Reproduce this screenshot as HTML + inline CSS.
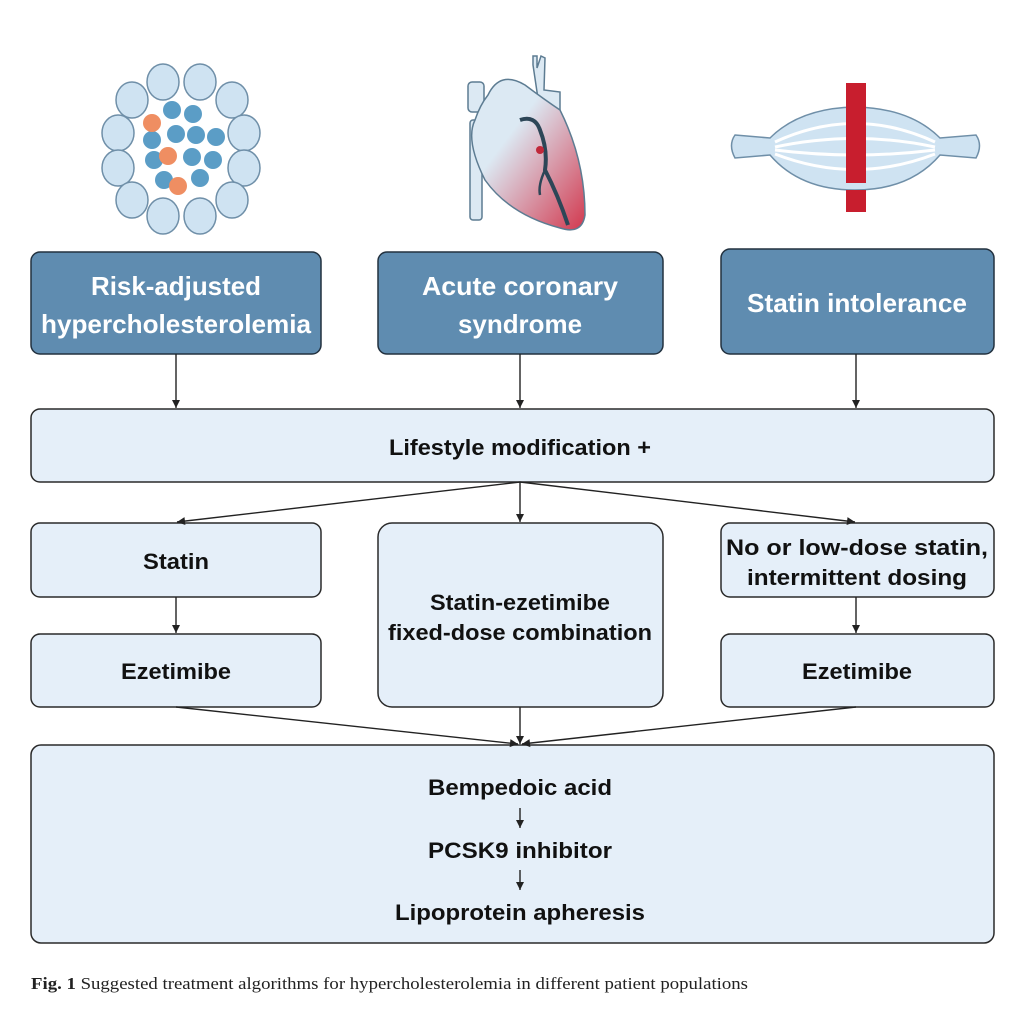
<!DOCTYPE html>
<html><head><meta charset="utf-8"><style>
html,body{margin:0;padding:0;background:#fff;}
svg{display:block;}
</style></head><body>
<svg width="1024" height="1024" viewBox="0 0 1024 1024" xmlns="http://www.w3.org/2000/svg">
<defs>
<marker id="ah" markerWidth="10" markerHeight="10" refX="9" refY="5" orient="auto" markerUnits="userSpaceOnUse">
<path d="M1,1 L9,5 L1,9 Z" fill="#222"/>
</marker>
<linearGradient id="heart" x1="0" y1="0" x2="1" y2="1">
<stop offset="0.35" stop-color="#dce9f3"/><stop offset="1" stop-color="#d2384e"/>
</linearGradient>
</defs>
<rect width="1024" height="1024" fill="#fff"/>

<!-- Icon 1: cell cluster -->
<g stroke="#6f8fa8" stroke-width="1.5" fill="#cfe3f2">
<ellipse cx="163" cy="82" rx="16" ry="18"/><ellipse cx="200" cy="82" rx="16" ry="18"/>
<ellipse cx="132" cy="100" rx="16" ry="18"/><ellipse cx="232" cy="100" rx="16" ry="18"/>
<ellipse cx="118" cy="133" rx="16" ry="18"/><ellipse cx="244" cy="133" rx="16" ry="18"/>
<ellipse cx="118" cy="168" rx="16" ry="18"/><ellipse cx="244" cy="168" rx="16" ry="18"/>
<ellipse cx="132" cy="200" rx="16" ry="18"/><ellipse cx="232" cy="200" rx="16" ry="18"/>
<ellipse cx="163" cy="216" rx="16" ry="18"/><ellipse cx="200" cy="216" rx="16" ry="18"/>
</g>
<g fill="#5b9dc6">
<circle cx="172" cy="110" r="9"/><circle cx="193" cy="114" r="9"/>
<circle cx="176" cy="134" r="9"/><circle cx="196" cy="135" r="9"/><circle cx="216" cy="137" r="9"/>
<circle cx="152" cy="140" r="9"/><circle cx="154" cy="160" r="9"/>
<circle cx="192" cy="157" r="9"/><circle cx="213" cy="160" r="9"/>
<circle cx="164" cy="180" r="9"/><circle cx="200" cy="178" r="9"/>
</g>
<g fill="#ef8e62">
<circle cx="152" cy="123" r="9"/><circle cx="168" cy="156" r="9"/><circle cx="178" cy="186" r="9"/>
</g>

<!-- Icon 2: heart -->
<g stroke="#5d7c92" stroke-width="1.5" fill="#dce9f3">
<path d="M533,65 L533,56 L537,56 L537,68 L541,56 L545,58 L544,90 L560,92 L560,112 L540,112 Z"/>
<rect x="468" y="82" width="16" height="30" rx="4"/>
<rect x="470" y="120" width="12" height="100" rx="3"/>
</g>
<path d="M488,95 Q500,70 525,85 Q545,100 560,110 Q585,160 585,215 Q582,235 560,228 Q510,215 485,180 Q465,140 475,120 Q480,105 488,95 Z" fill="url(#heart)" stroke="#5d7c92" stroke-width="1.5"/>
<path d="M520,120 Q535,115 540,130 Q548,150 545,170 Q558,195 568,225" fill="none" stroke="#2d4657" stroke-width="4"/>
<path d="M545,170 Q538,185 540,195" fill="none" stroke="#2d4657" stroke-width="2.5"/>
<circle cx="540" cy="150" r="4" fill="#c0283a"/>

<!-- Icon 3: muscle -->
<path d="M735,135 L770,138 Q800,108 855,107 Q910,108 940,138 L976,135 Q983,145 976,158 L940,155 Q910,190 855,190 Q800,190 770,155 L735,158 Q728,145 735,135 Z" fill="#cfe3f2" stroke="#6f8fa8" stroke-width="1.5"/>
<g fill="none" stroke="#fff" stroke-width="3">
<path d="M775,142 Q855,105 935,142"/><path d="M775,147 Q855,130 935,147"/>
<path d="M775,150 Q855,160 935,150"/><path d="M775,154 Q855,185 935,154"/>
</g>
<rect x="846" y="83" width="20" height="100" fill="#c81e2e"/>
<rect x="846" y="190" width="20" height="22" fill="#c81e2e"/>

<!-- Top dark boxes -->
<g fill="#5f8cb0" stroke="#22313f" stroke-width="1.5">
<rect x="31" y="252" width="290" height="102" rx="9"/>
<rect x="378" y="252" width="285" height="102" rx="9"/>
<rect x="721" y="249" width="273" height="105" rx="9"/>
</g>
<g font-family="Liberation Sans, sans-serif" font-size="26" fill="#fff" text-anchor="middle" font-weight="bold">
<text x="176" y="295" textLength="170" lengthAdjust="spacingAndGlyphs">Risk-adjusted</text>
<text x="176" y="333" textLength="270" lengthAdjust="spacingAndGlyphs">hypercholesterolemia</text>
<text x="520" y="295" textLength="196" lengthAdjust="spacingAndGlyphs">Acute coronary</text>
<text x="520" y="333" textLength="124" lengthAdjust="spacingAndGlyphs">syndrome</text>
<text x="857" y="312" textLength="220" lengthAdjust="spacingAndGlyphs">Statin intolerance</text>
</g>

<!-- Light boxes -->
<g fill="#e5eff9" stroke="#2a2a2a" stroke-width="1.5">
<rect x="31" y="409" width="963" height="73" rx="9"/>
<rect x="31" y="523" width="290" height="74" rx="9"/>
<rect x="378" y="523" width="285" height="184" rx="14"/>
<rect x="721" y="523" width="273" height="74" rx="9"/>
<rect x="31" y="634" width="290" height="73" rx="9"/>
<rect x="721" y="634" width="273" height="73" rx="9"/>
<rect x="31" y="745" width="963" height="198" rx="10"/>
</g>

<g stroke="#222" stroke-width="1.4" fill="none" marker-end="url(#ah)">
<line x1="176" y1="354" x2="176" y2="408"/>
<line x1="520" y1="354" x2="520" y2="408"/>
<line x1="856" y1="354" x2="856" y2="408"/>
<line x1="520" y1="482" x2="177" y2="522"/>
<line x1="520" y1="482" x2="520" y2="522"/>
<line x1="520" y1="482" x2="855" y2="522"/>
<line x1="176" y1="597" x2="176" y2="633"/>
<line x1="856" y1="597" x2="856" y2="633"/>
<line x1="176" y1="707" x2="518" y2="744"/>
<line x1="520" y1="707" x2="520" y2="744"/>
<line x1="856" y1="707" x2="522" y2="744"/>
<line x1="520" y1="808" x2="520" y2="828"/>
<line x1="520" y1="870" x2="520" y2="890"/>
</g>

<g font-family="Liberation Sans, sans-serif" font-size="22" fill="#111" text-anchor="middle" font-weight="bold">
<text x="520" y="455" textLength="262" lengthAdjust="spacingAndGlyphs">Lifestyle modification +</text>
<text x="176" y="569" textLength="66" lengthAdjust="spacingAndGlyphs">Statin</text>
<text x="857" y="555" textLength="262" lengthAdjust="spacingAndGlyphs">No or low-dose statin,</text>
<text x="857" y="585" textLength="220" lengthAdjust="spacingAndGlyphs">intermittent dosing</text>
<text x="520" y="610" textLength="180" lengthAdjust="spacingAndGlyphs">Statin-ezetimibe</text>
<text x="520" y="640" textLength="264" lengthAdjust="spacingAndGlyphs">fixed-dose combination</text>
<text x="176" y="679" textLength="110" lengthAdjust="spacingAndGlyphs">Ezetimibe</text>
<text x="857" y="679" textLength="110" lengthAdjust="spacingAndGlyphs">Ezetimibe</text>
<text x="520" y="795" textLength="184" lengthAdjust="spacingAndGlyphs">Bempedoic acid</text>
<text x="520" y="858" textLength="184" lengthAdjust="spacingAndGlyphs">PCSK9 inhibitor</text>
<text x="520" y="920" textLength="250" lengthAdjust="spacingAndGlyphs">Lipoprotein apheresis</text>
</g>

<text x="31" y="989" font-family="Liberation Serif, serif" font-size="17" fill="#222" textLength="717" lengthAdjust="spacingAndGlyphs"><tspan font-weight="bold">Fig. 1</tspan>  Suggested treatment algorithms for hypercholesterolemia in different patient populations</text>
</svg>
</body></html>
